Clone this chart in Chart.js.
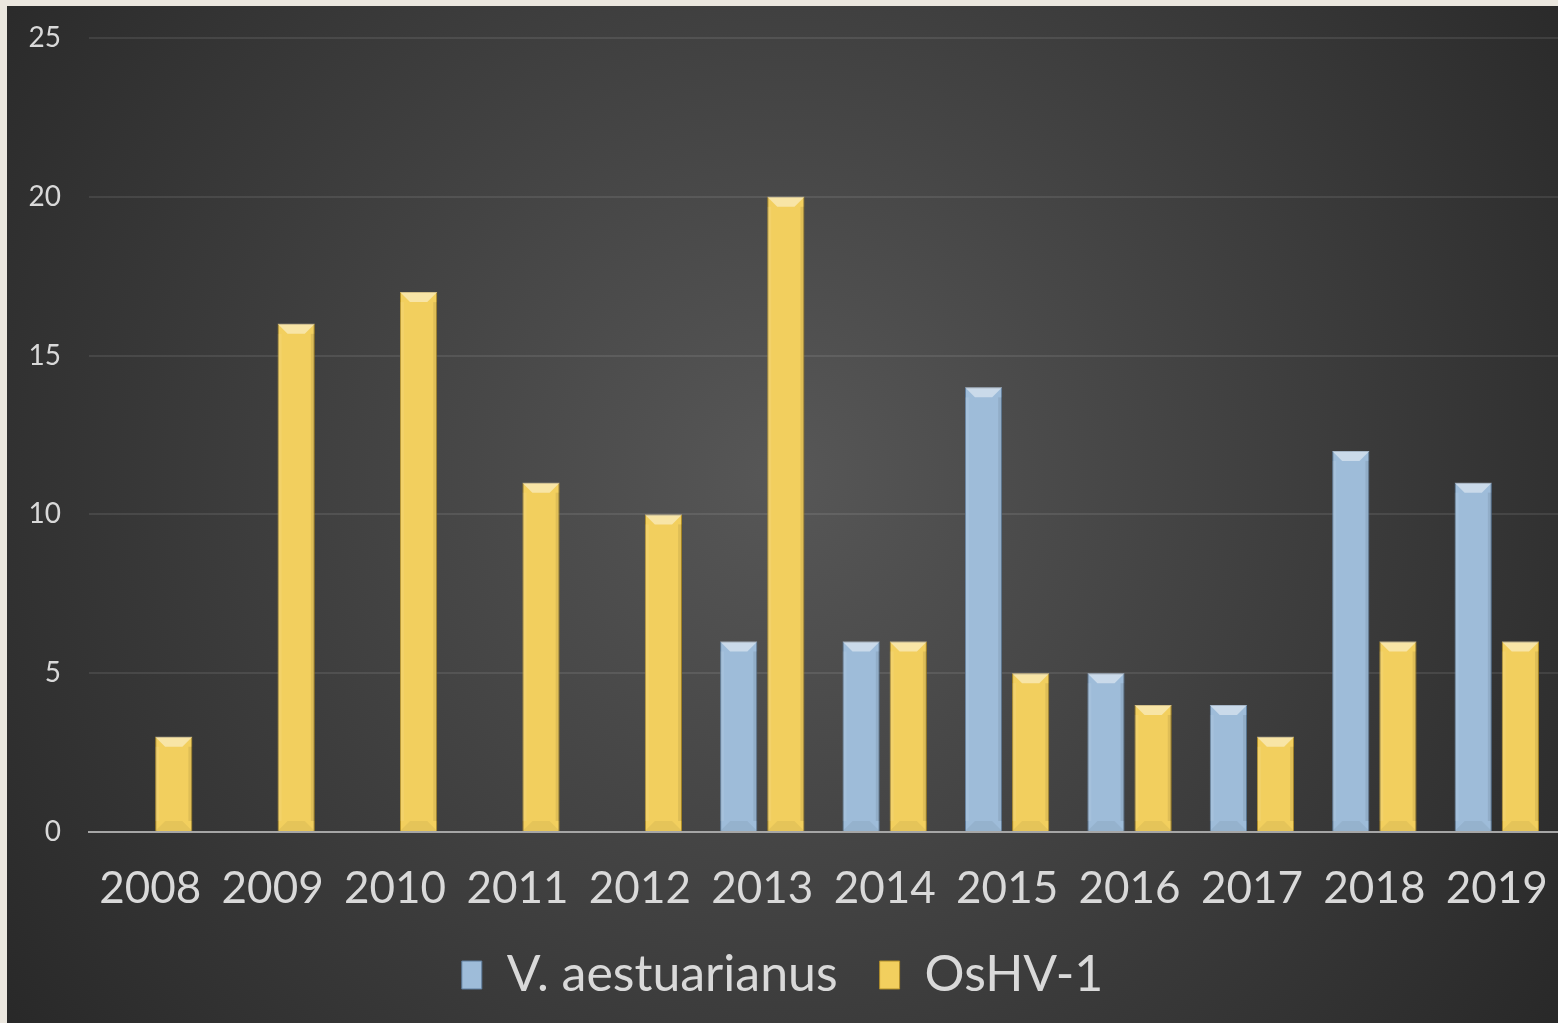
<!DOCTYPE html>
<html>
<head>
<meta charset="utf-8">
<script src="https://cdn.jsdelivr.net/npm/chart.js@4/dist/chart.umd.min.js"></script>
<style>
  html, body { margin: 0; padding: 0; background: #ebe7df; overflow: hidden; }
  #wrap { position: absolute; left: 7px; top: 6px; width: 1551px; height: 1017px; }
</style>
</head>
<body>
<div id="wrap"><canvas id="chart"></canvas></div>
<script>
const years = ["2008", "2009", "2010", "2011", "2012", "2013", "2014", "2015", "2016", "2017", "2018", "2019"];
const vibrio = [null, null, null, null, null, 6, 6, 14, 5, 4, 12, 11];
const oshv = [3, 16, 17, 11, 10, 20, 6, 5, 4, 3, 6, 6];
const yTicks = [0, 5, 10, 15, 20, 25];

const TEXT = "#d9d9d9";
const FONT = "Lato, 'Open Sans', sans-serif";

// dark radial backdrop behind the whole chart
const backdrop = {
  id: "backdrop",
  beforeDraw(chart) {
    const { ctx, width, height } = chart;
    const g = ctx.createRadialGradient(width * 0.5, height * 0.46, 0, width * 0.5, height * 0.46, width * 0.62);
    g.addColorStop(0, "#575757");
    g.addColorStop(1, "#282828");
    ctx.save();
    ctx.fillStyle = g;
    ctx.fillRect(0, 0, width, height);
    ctx.restore();
  }
};

// light top bevel on each bar, like the office "bevel" style
const bevel = {
  id: "bevel",
  afterDatasetsDraw(chart) {
    const ctx = chart.ctx;
    chart.data.datasets.forEach((ds, i) => {
      chart.getDatasetMeta(i).data.forEach(bar => {
        if (bar.skip || bar.y == null || isNaN(bar.y)) return;
        const l = bar.x - bar.width / 2, r = bar.x + bar.width / 2;
        const t = Math.min(bar.y, bar.base), b = Math.max(bar.y, bar.base);
        if (b - t < 1) return;
        const s = Math.min(10, (b - t) / 2);
        ctx.save();
        ctx.fillStyle = "rgba(255,255,255,0.45)";
        ctx.beginPath();
        ctx.moveTo(l, t); ctx.lineTo(r, t); ctx.lineTo(r - s, t + s); ctx.lineTo(l + s, t + s);
        ctx.closePath(); ctx.fill();
        ctx.fillStyle = "rgba(0,0,0,0.05)";
        ctx.beginPath();
        ctx.moveTo(l, b); ctx.lineTo(r, b); ctx.lineTo(r - s, b - s); ctx.lineTo(l + s, b - s);
        ctx.closePath(); ctx.fill();
        ctx.fillStyle = "rgba(0,0,0,0.08)";
        ctx.fillRect(r - 4, t + s, 4, b - t - 2 * s);
        ctx.fillStyle = "rgba(255,255,255,0.08)";
        ctx.fillRect(l, t + s, 4, b - t - 2 * s);
        ctx.restore();
      });
    });
  }
};

new Chart(document.getElementById("chart"), {
  type: "bar",
  data: {
    labels: years,
    datasets: [
      {
        label: "V. aestuarianus",
        data: vibrio,
        backgroundColor: "#9ebcd9",
        borderColor: "#5f7d9c",
        borderWidth: 1,
        categoryPercentage: 0.77,
        barPercentage: 0.79
      },
      {
        label: "OsHV-1",
        data: oshv,
        backgroundColor: "#f2cf5e",
        borderColor: "#b08d28",
        borderWidth: 1,
        categoryPercentage: 0.77,
        barPercentage: 0.79
      }
    ]
  },
  options: {
    responsive: true,
    maintainAspectRatio: false,
    animation: false,
    layout: { padding: { top: 32, right: 0, bottom: 13, left: 0 } },
    plugins: {
      legend: {
        position: "bottom",
        labels: {
          color: TEXT,
          font: { family: FONT, size: 50 },
          boxWidth: 20,
          boxHeight: 28,
          padding: 42
        }
      },
      tooltip: { enabled: false }
    },
    scales: {
      x: {
        grid: { display: false },
        border: { color: "#a6a6a6", width: 2 },
        ticks: { color: TEXT, font: { family: FONT, size: 44, lineHeight: 0.85 }, padding: 30, maxRotation: 0 },
        afterFit(scale) {
          scale.height = 76;
          scale.paddingLeft = 0;
          scale.paddingRight = 0;
        }
      },
      y: {
        min: 0,
        max: 25,
        afterBuildTicks(scale) { scale.ticks = yTicks.map(v => ({ value: v })); },
        border: { display: false },
        grid: {
          drawTicks: false,
          color: ctx => ctx.tick && ctx.tick.value === 0 ? "#a6a6a6" : "rgba(255,255,255,0.09)",
          lineWidth: 2
        },
        ticks: { color: TEXT, font: { family: FONT, size: 28 }, padding: 28 },
        afterFit(scale) {
          scale.width = 82;
          scale.paddingTop = 0;
          scale.paddingBottom = 0;
        }
      }
    }
  },
  plugins: [backdrop, bevel]
});
</script>
</body>
</html>
